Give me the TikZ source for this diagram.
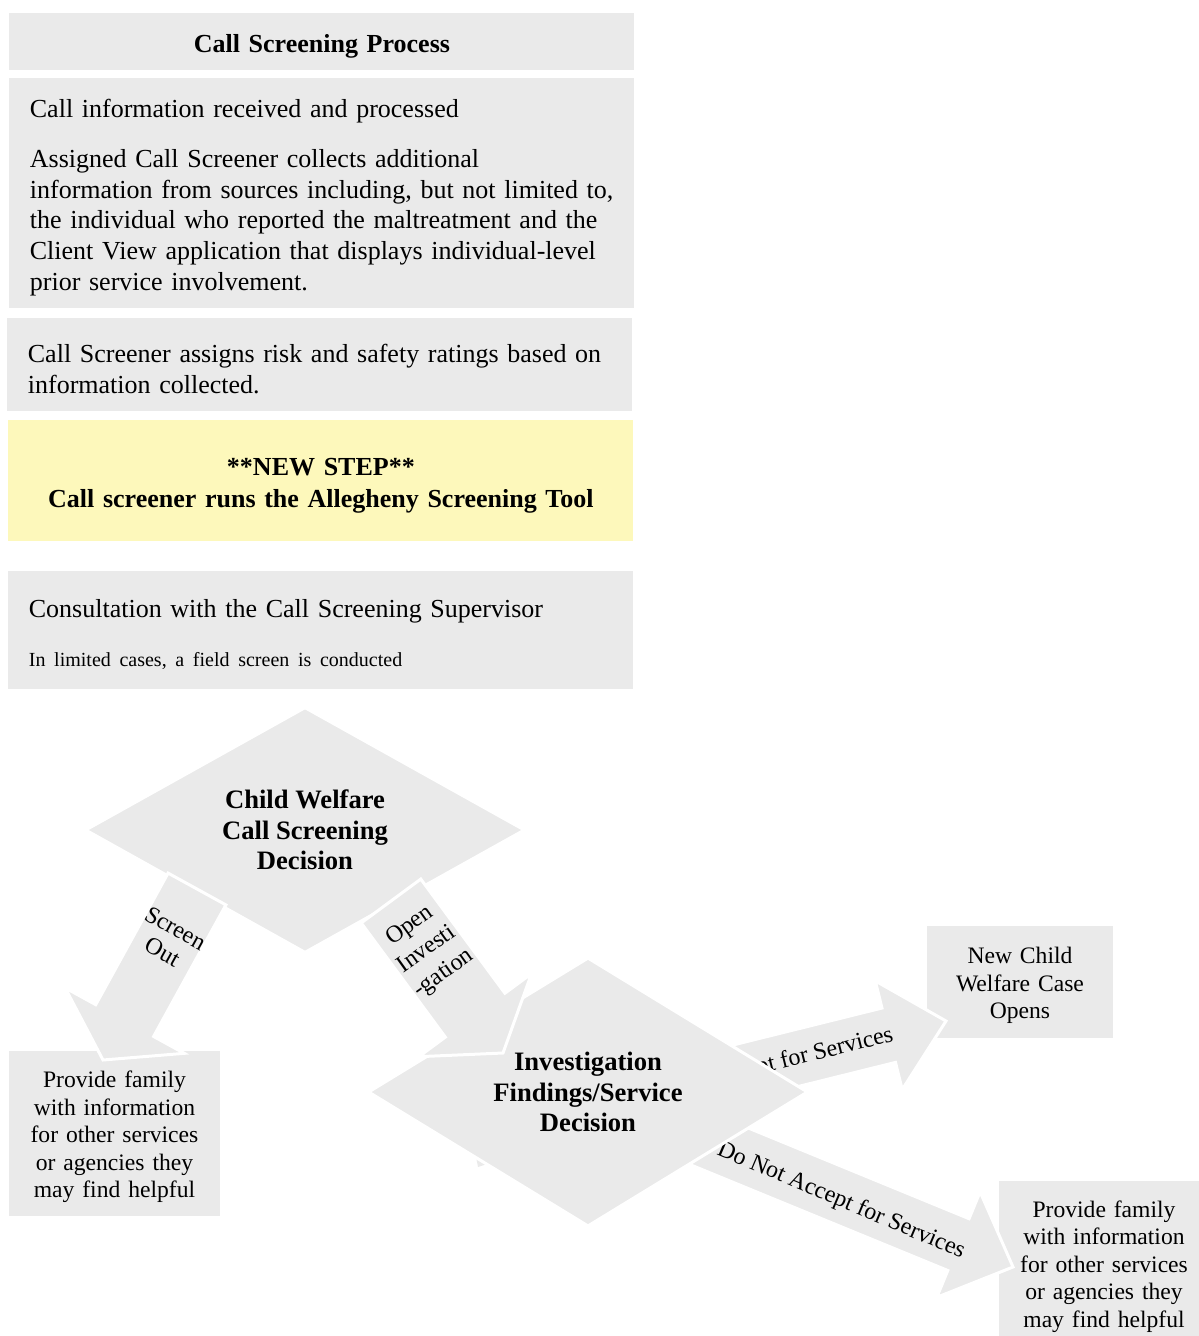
\documentclass[tikz,border=0pt]{standalone}
\usepackage{fontspec}
\setmainfont{Liberation Serif}
\usetikzlibrary{shapes.geometric, calc}

\definecolor{boxgray}{RGB}{234,234,234}
\definecolor{newstep}{RGB}{253,248,187}

\begin{document}
\begin{tikzpicture}[
    x=0.5pt, y=-0.5pt,
    % Boxes of the screening steps
    stepbox/.style={fill=boxgray, anchor=north west, minimum width=312.5pt,
        text width=292pt, inner xsep=10.25pt, inner ysep=0pt, align=left,
        execute at begin node=\rule{0pt}{13pt},
        font=\fontsize{13}{15.3}\selectfont},
    titlebox/.style={stepbox, align=center, font=\bfseries\fontsize{13}{16}\selectfont},
    % Decisions and outcomes
    decision/.style={diamond, fill=boxgray, draw=white, line width=1.5pt,
        minimum width=220pt, minimum height=119pt, inner sep=0pt, align=center,
        font=\bfseries\fontsize{13.3}{15.3}\selectfont},
    outcome/.style={fill=boxgray, minimum width=105.5pt, minimum height=82.5pt,
        text width=100pt, inner sep=0pt, align=center,
        execute at begin node=\rule{0pt}{12pt},
        font=\fontsize{11.8}{13.75}\selectfont},
    arrowbody/.style={fill=boxgray, draw=white, line width=1.5pt},
    flowlabel/.style={inner sep=0pt, align=center, font=\fontsize{12}{13.5}\selectfont}
]

    %% Block arrow: start, tip, shaft half width, head half width, head length
    \def\blockarrow#1#2#3#4#5{%
        \coordinate (hb) at ($(#2)!#5!(#1)$);
        \filldraw[arrowbody] ($(#1)!#3!90:(#2)$) -- ($(hb)!#3!90:(#2)$)
            -- ($(hb)!#4!90:(#2)$) -- (#2) -- ($(hb)!#4!-90:(#2)$)
            -- ($(hb)!#3!-90:(#2)$) -- ($(#1)!#3!-90:(#2)$) -- cycle;}

    \useasboundingbox (0,0) rectangle (1198,1336);


    % Screening steps

    \node[titlebox, minimum height=28.5pt] (title) at (9,13) {Call Screening Process};

    \node[stepbox, minimum height=115pt] (received) at (9,78)
        {Call information received and processed\\[10pt]
         Assigned Call Screener collects additional\\
         information from sources including, but not limited to,\\
         the individual who reported the maltreatment and the\\
         Client View application that displays individual-level\\
         prior service involvement.};

    \node[stepbox, minimum height=46.5pt] (ratings) at (7,318)
        {Call Screener assigns risk and safety ratings based on\\
         information collected.};

    \node[titlebox, fill=newstep, minimum height=60.5pt] (newstep) at (8,420)
        {**NEW STEP**\\Call screener runs the Allegheny Screening Tool};

    \node[stepbox, minimum height=59pt] (consult) at (8,571)
        {Consultation with the Call Screening Supervisor\\[9pt]
         {\fontsize{10}{12}\selectfont In limited cases, a field screen is conducted}};


    % Outcomes

    \node[outcome] (outinfo) at (114.5,1133.5)
        {Provide family\\with information\\for other services\\or agencies they\\may find helpful};
    \node[outcome, text width=88pt, minimum width=93pt, minimum height=56pt] (newcase) at (1020,982)
        {New Child\\Welfare Case\\Opens};
    \node[outcome] (rejinfo) at (1104,1263)
        {Provide family\\with information\\for other services\\or agencies they\\may find helpful};


    % Arrows leaving the investigation decision

    \coordinate (accS) at (680,1087);
    \coordinate (accT) at (946,1021);
    \coordinate (rejS) at (660,1122);
    \coordinate (rejT) at (1013,1267);

    \blockarrow{accS}{accT}{14pt}{28pt}{29.5pt}
    \node[flowlabel, rotate=14] (acclbl) at (801,1058) {Accept for Services};

    \blockarrow{rejS}{rejT}{14pt}{28.5pt}{29.5pt}
    \node[flowlabel, rotate=-23] (rejlbl) at (841,1201) {Do Not Accept for Services};

    \fill[boxgray] (475,1152) -- (493,1162) -- (478,1167) -- cycle;


    % Decisions

    \node[decision] (invdec) at (588,1092) {Investigation\\Findings/Service\\Decision};
    \node[decision] (cwdec) at (305,830) {Child Welfare\\Call Screening\\Decision};


    % Arrows leaving the call screening decision

    \coordinate (outS) at (197,889);
    \coordinate (outT) at (103,1060);
    \coordinate (invS) at (391,901);
    \coordinate (invT) at (503,1053);

    \blockarrow{outS}{outT}{16.5pt}{34pt}{22.5pt}
    \node[flowlabel, rotate=-29] (outlbl) at (169,940) {Screen\\Out};

    \blockarrow{invS}{invT}{18.5pt}{35pt}{23.5pt}
    \node[flowlabel, rotate=35.5, font=\fontsize{12}{14.5}\selectfont] (invlbl) at (427,950)
        {Open\\Investi\\-gation};

\end{tikzpicture}
\end{document}
